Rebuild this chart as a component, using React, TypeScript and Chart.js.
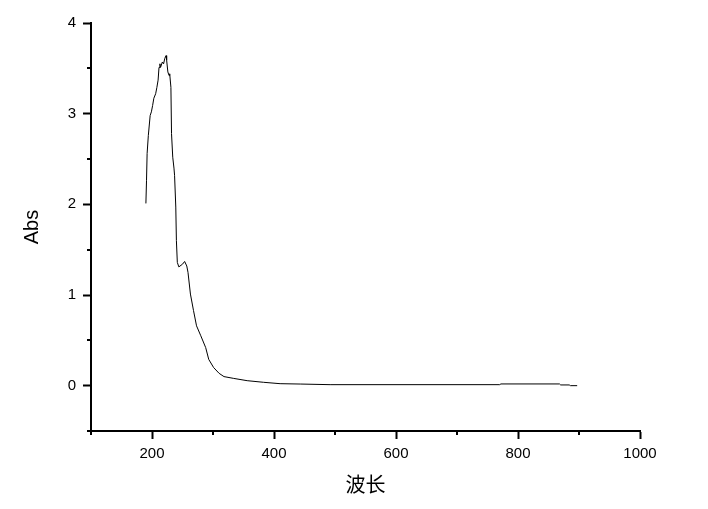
import React, { useEffect, useRef } from "react";
import { Chart, registerables } from "chart.js";

Chart.register(...registerables);

const wavelength = [
  190, 191, 192, 194, 197, 199, 201, 203, 206, 208, 210, 211.5, 213, 214, 217, 219, 221, 223, 224, 226,
  228, 229, 231, 232, 234, 236, 237, 239, 240, 241.5, 244, 250, 253.5, 257, 259, 263, 268, 273, 280, 288,
  293, 301, 310, 318, 334, 356, 383, 410, 443, 492, 770, 772, 868, 870, 884, 886, 897,
];
const absorbance = [
  2.01, 2.26, 2.56, 2.76, 2.98, 3.02, 3.09, 3.17, 3.22, 3.29, 3.37, 3.51, 3.55, 3.51, 3.57, 3.55, 3.61, 3.64, 3.59, 3.46,
  3.42, 3.44, 3.29, 2.78, 2.52, 2.4, 2.32, 1.97, 1.6, 1.36, 1.31, 1.34, 1.37, 1.32, 1.25, 1.01, 0.83, 0.66, 0.55, 0.42,
  0.29, 0.2, 0.136, 0.1, 0.08, 0.055, 0.037, 0.022, 0.018, 0.011, 0.011, 0.019, 0.019, 0.008, 0.008, 0.0, 0.0,
];

const xMajorTicks = [200, 400, 600, 800, 1000];
const xMinorTicks = [100, 300, 500, 700, 900];
const yMajorTicks = [0, 1, 2, 3, 4];
const yMinorTicks = [-0.5, 0.5, 1.5, 2.5, 3.5];

const xTitle = "波长";
const yTitle = "Abs";

const minorTickPlugin = {
  id: "minorTicks",
  afterDraw(chart: any) {
    const { ctx, chartArea, scales } = chart;
    ctx.save();
    ctx.strokeStyle = "#000";
    ctx.lineWidth = 2;
    ctx.beginPath();
    xMinorTicks.forEach((v) => {
      const px = Math.round(scales.x.getPixelForValue(v));
      ctx.moveTo(px, chartArea.bottom);
      ctx.lineTo(px, chartArea.bottom + 4);
    });
    yMinorTicks.forEach((v) => {
      const py = Math.round(scales.y.getPixelForValue(v));
      ctx.moveTo(chartArea.left - 4, py);
      ctx.lineTo(chartArea.left, py);
    });
    ctx.stroke();
    ctx.restore();
  },
};

export default function App() {
  const canvasRef = useRef<HTMLCanvasElement | null>(null);

  useEffect(() => {
    if (!canvasRef.current) return;
    const points = wavelength.map((w, i) => ({ x: w, y: absorbance[i] }));
    const tickFont = { family: "'Liberation Sans', Arial, sans-serif", size: 15 };
    const chart = new Chart(canvasRef.current, {
      type: "line",
      data: {
        datasets: [
          {
            data: points,
            borderColor: "#000",
            borderWidth: 1,
            pointRadius: 0,
            tension: 0,
            fill: false,
          },
        ],
      },
      plugins: [minorTickPlugin],
      options: {
        responsive: false,
        animation: false,
        layout: { padding: { left: 0, right: 68, top: 23, bottom: 0 } },
        plugins: { legend: { display: false }, tooltip: { enabled: false } },
        scales: {
          x: {
            type: "linear",
            min: 100,
            max: 1000,
            afterBuildTicks: (s: any) => {
              s.ticks = xMajorTicks.map((v) => ({ value: v }));
            },
            afterFit: (s: any) => {
              s.height = 78;
            },
            border: { display: true, color: "#000", width: 2 },
            grid: { display: true, drawOnChartArea: false, drawTicks: true, tickLength: 8, tickWidth: 2, tickColor: "#000" },
            ticks: {
              color: "#000",
              font: tickFont,
              padding: 6,
              maxRotation: 0,
              autoSkip: false,
              callback: (v: any) => String(v),
            },
            title: {
              display: true,
              text: xTitle,
              color: "#000",
              font: { family: "'Noto Sans CJK SC', sans-serif", size: 20 },
              padding: { top: 0, bottom: 13 },
            },
          },
          y: {
            type: "linear",
            min: -0.5,
            max: 4,
            afterBuildTicks: (s: any) => {
              s.ticks = yMajorTicks.map((v) => ({ value: v }));
            },
            afterFit: (s: any) => {
              s.width = 91;
            },
            border: { display: true, color: "#000", width: 2 },
            grid: { display: true, drawOnChartArea: false, drawTicks: true, tickLength: 8, tickWidth: 2, tickColor: "#000" },
            ticks: {
              color: "#000",
              font: tickFont,
              padding: 7,
              autoSkip: false,
              callback: (v: any) => String(v),
            },
            title: {
              display: true,
              text: yTitle,
              color: "#000",
              font: { family: "'Liberation Sans', Arial, sans-serif", size: 20 },
              padding: { top: 20, bottom: 0 },
            },
          },
        },
      },
    });
    return () => chart.destroy();
  }, []);

  return (
    <div style={{ position: "absolute", left: 0, top: 0, width: 708, height: 509, background: "#fff" }}>
      <canvas ref={canvasRef} width={708} height={509} />
    </div>
  );
}
